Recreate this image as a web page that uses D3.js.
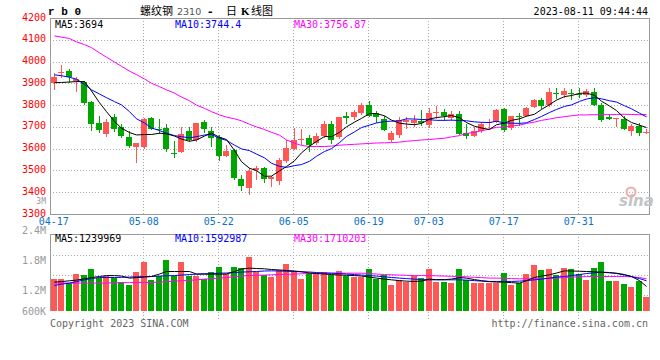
<!DOCTYPE html>
<html><head><meta charset="utf-8">
<script src="https://cdn.jsdelivr.net/npm/d3@7"></script>
<style>body{margin:0;background:#fff}svg{display:block}</style>
</head><body><svg id="c" width="660" height="360"></svg>
<script>
const dates = ["04-17","04-18","04-19","04-20","04-21","04-24","04-25","04-26","04-27","04-28",
"05-04","05-05","05-08","05-09","05-10","05-11","05-12","05-15","05-16","05-17",
"05-18","05-19","05-22","05-23","05-24","05-25","05-26","05-29","05-30","05-31",
"06-01","06-02","06-05","06-06","06-07","06-08","06-09","06-12","06-13","06-14",
"06-15","06-16","06-19","06-20","06-21","06-26","06-27","06-28","06-29","06-30",
"07-03","07-04","07-05","07-06","07-07","07-10","07-11","07-12","07-13","07-14",
"07-17","07-18","07-19","07-20","07-21","07-24","07-25","07-26","07-27","07-28",
"07-31","08-01","08-02","08-03","08-04","08-07","08-08","08-09","08-10","08-11"];
const open = [3900,3946,3958,3912,3906,3815,3716,3668,3744,3698,
3655,3607,3607,3742,3692,3694,3582,3586,3680,3640,
3724,3683,3655,3567,3594,3461,3421,3500,3510,3460,
3452,3545,3600,3638,3650,3626,3659,3714,3653,3752,
3744,3765,3800,3763,3735,3641,3663,3721,3720,3728,
3708,3763,3767,3741,3760,3671,3659,3681,3720,3724,
3783,3694,3752,3750,3793,3824,3801,3855,3845,3855,
3852,3848,3858,3801,3745,3736,3735,3681,3704,3672];
const high = [3946,3984,3966,3931,3910,3818,3750,3735,3760,3713,
3683,3628,3740,3747,3735,3714,3633,3701,3701,3718,
3732,3700,3665,3617,3600,3478,3510,3520,3518,3474,
3555,3640,3693,3692,3662,3672,3726,3727,3747,3768,
3778,3811,3820,3775,3750,3680,3747,3746,3755,3778,
3786,3797,3783,3774,3773,3712,3700,3724,3735,3780,
3789,3752,3763,3793,3826,3834,3877,3877,3878,3872,
3880,3875,3877,3810,3760,3741,3752,3714,3716,3692];
const low = [3873,3931,3908,3865,3804,3686,3678,3659,3680,3655,
3607,3541,3602,3690,3670,3591,3563,3584,3633,3634,
3678,3614,3548,3567,3460,3411,3390,3462,3446,3429,
3440,3540,3598,3620,3588,3620,3655,3628,3650,3720,
3734,3760,3748,3722,3685,3634,3655,3695,3702,3710,
3700,3740,3733,3732,3666,3650,3657,3678,3692,3722,
3680,3690,3710,3748,3790,3786,3798,3832,3838,3826,
3835,3840,3800,3725,3735,3705,3690,3665,3664,3671];
const close = [3928,3954,3927,3919,3811,3714,3684,3724,3690,3660,
3613,3626,3736,3692,3686,3599,3576,3667,3640,3716,
3689,3648,3567,3591,3464,3430,3499,3510,3461,3468,
3550,3601,3642,3645,3617,3660,3714,3640,3745,3742,
3768,3800,3752,3745,3688,3670,3732,3731,3731,3718,
3766,3767,3751,3758,3668,3657,3681,3712,3724,3778,
3688,3750,3744,3786,3824,3795,3862,3849,3864,3849,
3846,3865,3802,3730,3737,3739,3692,3704,3670,3678];
const ma5 = [3903,3904,3906,3908,3908,3865,3811,3770,3725,3694,
3674,3663,3665,3665,3671,3668,3658,3644,3634,3640,
3658,3672,3652,3642,3592,3540,3510,3499,3473,3474,
3498,3518,3544,3581,3611,3633,3656,3655,3675,3700,
3722,3739,3761,3761,3751,3731,3717,3713,3710,3716,
3736,3743,3747,3752,3742,3720,3703,3695,3688,3710,
3717,3730,3737,3749,3758,3780,3802,3823,3839,3844,
3854,3855,3845,3818,3796,3775,3740,3720,3708,3697];
const ma10 = [3939,3935,3928,3919,3895,3870,3851,3834,3816,3801,
3770,3737,3718,3695,3683,3671,3660,3655,3650,3655,
3663,3665,3648,3638,3616,3599,3591,3575,3558,3533,
3519,3514,3522,3527,3542,3565,3587,3600,3628,3656,
3677,3697,3708,3718,3725,3726,3728,3737,3736,3734,
3733,3730,3730,3731,3729,3728,3723,3721,3720,3726,
3718,3717,3716,3719,3734,3748,3766,3780,3794,3801,
3817,3828,3834,3829,3820,3814,3797,3783,3763,3746];
const ma30 = [4118,4112,4106,4090,4078,4064,4040,4020,3998,3978,
3956,3940,3920,3900,3885,3870,3855,3837,3820,3800,
3785,3770,3755,3745,3737,3728,3712,3700,3688,3675,
3662,3640,3625,3615,3610,3610,3610,3612,3616,3618,
3620,3622,3624,3626,3627,3628,3630,3634,3637,3640,
3642,3645,3648,3654,3660,3670,3675,3682,3690,3698,
3700,3704,3708,3716,3722,3730,3736,3742,3747,3751,
3755,3755,3756,3756,3756,3757,3758,3757,3756,3757];
const volume = [1436000,1436000,1351000,1534000,1515000,1633000,1450000,1501000,1450000,1371000,
1304000,1568000,1765000,1416000,1482000,1810000,1501000,1765000,1482000,1501000,
1436000,1580000,1678000,1528000,1678000,1659000,1875000,1568000,1515000,1462000,
1613000,1731000,1600000,1436000,1547000,1560000,1568000,1515000,1593000,1482000,
1462000,1462000,1633000,1436000,1515000,1304000,1416000,1364000,1482000,1450000,
1633000,1371000,1371000,1351000,1633000,1416000,1351000,1351000,1351000,1351000,
1547000,1318000,1351000,1528000,1711000,1613000,1633000,1515000,1659000,1633000,
1528000,1416000,1659000,1765000,1384000,1397000,1338000,1265000,1397000,1068000];
const volMa5 = [1371000,1380000,1397000,1410000,1436000,1460000,1482000,1500000,1500000,1490000,
1450000,1460000,1470000,1482000,1530000,1580000,1580000,1580000,1580000,1530000,
1528000,1528000,1528000,1530000,1580000,1630000,1646000,1640000,1633000,1620000,
1610000,1600000,1590000,1575000,1550000,1540000,1530000,1520000,1510000,1505000,
1500000,1490000,1470000,1450000,1430000,1416000,1400000,1390000,1384000,1390000,
1430000,1420000,1420000,1430000,1460000,1450000,1420000,1400000,1380000,1371000,
1370000,1360000,1351000,1400000,1462000,1490000,1515000,1550000,1593000,1590000,
1585000,1580000,1575000,1565000,1555000,1547000,1520000,1482000,1400000,1285000];
const volMa10 = [1304000,1330000,1351000,1380000,1416000,1440000,1462000,1462000,1462000,1465000,
1470000,1475000,1480000,1482000,1490000,1495000,1500000,1510000,1520000,1528000,
1535000,1540000,1547000,1550000,1560000,1568000,1575000,1580000,1590000,1593000,
1590000,1585000,1580000,1575000,1570000,1560000,1550000,1547000,1540000,1530000,
1520000,1510000,1500000,1490000,1475000,1462000,1450000,1440000,1430000,1420000,
1416000,1416000,1416000,1416000,1416000,1410000,1400000,1390000,1384000,1384000,
1384000,1384000,1390000,1400000,1416000,1430000,1450000,1470000,1482000,1500000,
1520000,1540000,1555000,1568000,1560000,1540000,1510000,1480000,1440000,1397000];
const volMa30 = [1351000,1351000,1351000,1351000,1351000,1351000,1351000,1351000,1360000,1360000,
1360000,1364000,1364000,1364000,1370000,1380000,1390000,1397000,1405000,1416000,
1430000,1440000,1450000,1462000,1475000,1490000,1501000,1505000,1510000,1515000,
1520000,1525000,1528000,1535000,1540000,1545000,1547000,1547000,1547000,1547000,
1547000,1547000,1540000,1530000,1520000,1515000,1510000,1505000,1500000,1500000,
1500000,1495000,1490000,1485000,1482000,1475000,1465000,1460000,1450000,1450000,
1445000,1440000,1436000,1436000,1436000,1440000,1445000,1450000,1462000,1470000,
1475000,1480000,1482000,1482000,1482000,1482000,1482000,1475000,1460000,1436000];
const priceTicks = [3300,3400,3500,3600,3700,3800,3900,4000,4100,4200];
const volTicks = [600000,1200000,1800000,2400000];
const volTickLabels = ["600K","1.2M","1.8M","2.4M"];
const dateTicks = ["04-17","05-08","05-22","06-05","06-19","07-03","07-17","07-31"];
const priceMaLabels = ["MA5:3694","MA10:3744.4","MA30:3756.87"];
const volMaLabels = ["MA5:1239969","MA10:1592987","MA30:1710203"];

const W=660,H=360, L=50, R=650, pTop=18, pBot=214, vTop=234, vBot=311;
const RED="#ff5656", GREEN="#00a600", GRID="#aaaaaa", BORDER="#999999";
const MONO="'DejaVu Sans Mono', 'Liberation Mono', monospace";
const svg=d3.select('#c');
svg.append('rect').attr('width',W).attr('height',H).attr('fill','#fff');

const x=d3.scaleBand().domain(dates).range([L,R]).paddingInner(0.2).paddingOuter(0.1);
const bw=x.bandwidth();
const cx=d=>Math.round(x(d)+bw/2)+0.5;
const y=d3.scaleLinear().domain([3300,4200]).range([pBot,pTop]);
const yv=d3.scaleLinear().domain([800000,2400000]).range([vBot,230]);

// grid
const g=svg.append('g').attr('stroke',GRID).attr('stroke-dasharray','1,2').attr('shape-rendering','crispEdges');
priceTicks.filter(t=>t>3300&&t<4200).forEach(t=>{
  g.append('line').attr('x1',L).attr('x2',R).attr('y1',Math.round(y(t))+0.5).attr('y2',Math.round(y(t))+0.5);
});
[255,275,295].forEach(v=>g.append('line').attr('x1',L).attr('x2',R).attr('y1',v+0.5).attr('y2',v+0.5));
dateTicks.slice(1).forEach(d=>{
  g.append('line').attr('x1',cx(d)-1).attr('x2',cx(d)-1).attr('y1',pTop).attr('y2',pBot);
  g.append('line').attr('x1',cx(d)-1).attr('x2',cx(d)-1).attr('y1',vTop).attr('y2',321);
});
// borders
const b=svg.append('g').attr('stroke',BORDER).attr('fill','none').attr('shape-rendering','crispEdges');
b.append('rect').attr('x',L+0.5).attr('y',pTop+0.5).attr('width',R-L-1).attr('height',pBot-pTop);
b.append('path').attr('d',`M${L+0.5},${vBot}V${vTop+0.5}H${R-0.5}V${vBot}`);

// candles
const idx=d3.range(dates.length);
const cg=svg.append('g').attr('shape-rendering','crispEdges');
idx.forEach(i=>{
  const col = close[i]>=open[i]?RED:GREEN;
  const xc=cx(dates[i]);
  cg.append('line').attr('x1',xc).attr('x2',xc).attr('y1',Math.round(y(high[i]))).attr('y2',Math.round(y(low[i]))+1).attr('stroke',col);
  const t=Math.round(y(Math.max(open[i],close[i]))), bt=Math.round(y(Math.min(open[i],close[i])));
  cg.append('rect').attr('x',xc-3.5).attr('y',t).attr('width',6).attr('height',Math.max(1,bt-t)).attr('fill',col);
});
// volume bars
idx.forEach(i=>{
  const col = close[i]>=open[i]?RED:GREEN;
  const xc=cx(dates[i]);
  const t=Math.round(yv(volume[i]));
  cg.append('rect').attr('x',xc-3.5).attr('y',t).attr('width',6).attr('height',vBot-t).attr('fill',col);
});

// MA lines
function ma(arr,sc,col){
  svg.append('path').datum(arr).attr('fill','none').attr('stroke',col).attr('stroke-width',1)
   .attr('d',d3.line().x((d,i)=>cx(dates[i])).y(d=>sc(d)));
}
ma(ma30,y,'#ff00ff'); ma(ma10,y,'#0000ff'); ma(ma5,y,'#000000');
ma(volMa30,yv,'#ff00ff'); ma(volMa10,yv,'#0000ff'); ma(volMa5,yv,'#000000');

// axes
const ya=svg.append('g').attr('transform',`translate(${L},0)`)
  .call(d3.axisLeft(y).tickValues(priceTicks).tickSize(0).tickPadding(4).tickFormat(d3.format('d')));
ya.select('.domain').remove();
ya.selectAll('text').attr('fill','#ff0000').attr('font-family',MONO).attr('font-size',10).attr('dy','0.2em');
const xa=svg.append('g').attr('transform',`translate(0,${pBot+2})`)
  .call(d3.axisBottom(x).tickValues(dateTicks).tickSize(0).tickPadding(0));
xa.select('.domain').remove();
xa.selectAll('text').attr('fill','#0a72c8').attr('font-family',MONO).attr('font-size',10).attr('dy','0.85em');

volTicks.forEach((v,i)=>{
  svg.append('text').attr('x',46).attr('y',Math.min(yv(v),311)).attr('dy','0.35em').attr('text-anchor','end')
   .attr('fill','#999').attr('font-family',MONO).attr('font-size',10).text(volTickLabels[i]);
});
svg.append('text').attr('x',46).attr('y',201.5).attr('dy','0.35em').attr('text-anchor','end')
   .attr('fill','#999').attr('font-family',MONO).attr('font-size',8).text('3M');

// labels
const maCols=['#000000','#0000ff','#ff00ff'], maX=[55,175,294];
priceMaLabels.forEach((t,i)=>svg.append('text').attr('x',maX[i]).attr('y',28).attr('fill',maCols[i]).attr('font-family',MONO).attr('font-size',10).text(t));
volMaLabels.forEach((t,i)=>svg.append('text').attr('x',maX[i]).attr('y',242).attr('fill',maCols[i]).attr('font-family',MONO).attr('font-size',10).text(t));

svg.append('text').attr('x',48).attr('y',15).attr('font-family',"'Liberation Mono', monospace").attr('font-weight','bold').attr('font-size',11).attr('fill','#000').text('r b 0');
const CJK="'Noto Sans CJK SC', sans-serif";
const tt=svg.append('text').attr('y',15).attr('font-family',CJK).attr('font-size',11).attr('fill','#000');
tt.append('tspan').attr('x',140).text('螺纹钢');
tt.append('tspan').attr('x',177).attr('fill','#555').attr('font-size',9.5).attr('font-family',"'DejaVu Sans', sans-serif").text('2310');
tt.append('tspan').attr('x',207).attr('font-family',MONO).attr('font-weight','bold').attr('font-size',11).text('-');
tt.append('tspan').attr('x',226).text('日');
tt.append('tspan').attr('x',241).attr('font-weight','bold').attr('font-family',"'Liberation Serif', serif").text('K');
tt.append('tspan').attr('x',251).text('线图');
svg.append('text').attr('x',648).attr('y',15).attr('text-anchor','end').attr('font-family',MONO).attr('font-size',10).attr('fill','#000').text('2023-08-11 09:44:44');
svg.append('text').attr('x',50).attr('y',327).attr('font-family',MONO).attr('font-size',10).attr('fill','#666').text('Copyright 2023 SINA.COM');
svg.append('text').attr('x',648).attr('y',327).attr('text-anchor','end').attr('font-family',MONO).attr('font-size',10).attr('fill','#666').text('http://finance.sina.com.cn');
// watermark
svg.append('circle').attr('cx',631).attr('cy',192).attr('r',4.5).attr('fill','none').attr('stroke','#f4a8a8').attr('stroke-width',2);
svg.append('text').attr('x',619).attr('y',206).attr('font-family',"'DejaVu Sans', sans-serif").attr('font-style','italic').attr('font-weight','bold').attr('font-size',15).attr('fill','#c4c4c4').text('sina');
</script></body></html>
